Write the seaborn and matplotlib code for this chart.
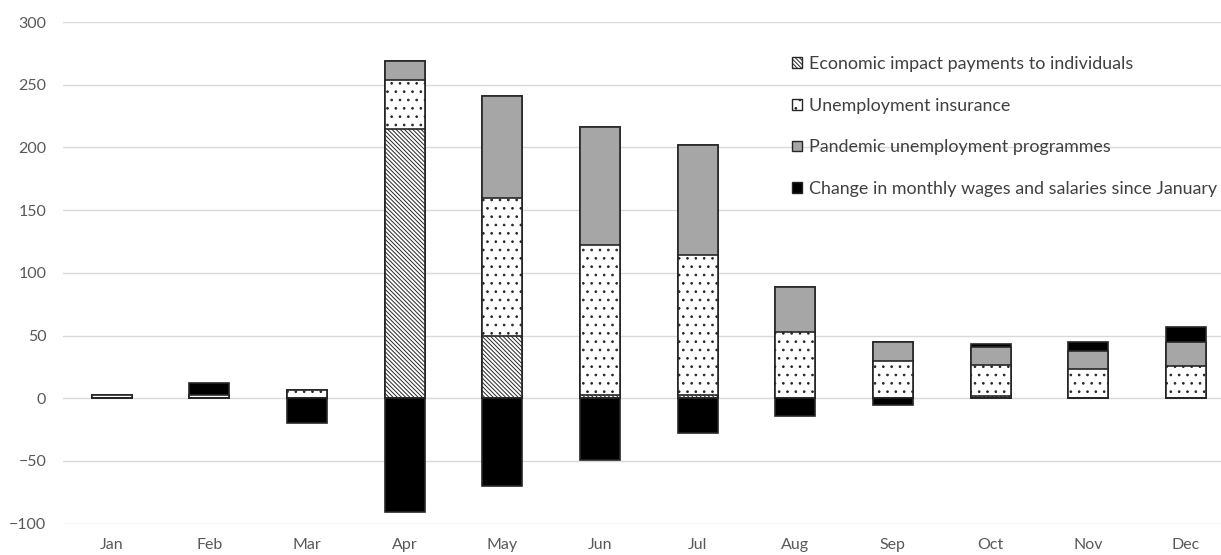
import seaborn as sns
import matplotlib.pyplot as plt
from matplotlib.patches import Patch
import numpy as np
import pandas as pd

months = ['Jan', 'Feb', 'Mar', 'Apr', 'May', 'Jun', 'Jul', 'Aug', 'Sep', 'Oct', 'Nov', 'Dec']

# values
eip = [0, 0, 0, 215, 50, 3, 2.5, 0, 0, 1.5, 0, 0]
ui = [2.5, 2.5, 6.5, 39, 109.5, 119, 111.5, 53, 30, 25, 23, 26]
pandemic = [0, 0, 0, 15, 81.5, 94, 88, 35.5, 14.5, 14.3, 15, 18.5]
wages = [0, 10, -19.5, -91, -70, -49.5, -27.5, -14.5, -5.5, 2.7, 7, 12]

labels = ['Economic impact payments to individuals',
          'Unemployment insurance',
          'Pandemic unemployment programmes',
          'Change in monthly wages and salaries since January']

df = pd.DataFrame({'month': months, 'eip': eip, 'ui': ui,
                   'pandemic': pandemic, 'wages': wages})
df['wages_pos'] = df['wages'].clip(lower=0)
df['wages_neg'] = df['wages'].clip(upper=0)

# cumulative heights for stacking (draw tallest first)
df['c1'] = df['eip']
df['c2'] = df['c1'] + df['ui']
df['c3'] = df['c2'] + df['pandemic']
df['c4'] = df['c3'] + df['wages_pos']

sns.set_style('white')
plt.rcParams['font.family'] = ['Lato', 'DejaVu Sans']
plt.rcParams['hatch.linewidth'] = 0.7

fig = plt.figure(figsize=(12.21, 5.55), dpi=100)
ax = fig.add_axes([63 / 1221, 1 - 523.7 / 555, (1221 - 63) / 1221, (523.7 - 22) / 555])

edge = '#262626'
bw = 0.41
hatch_eip = '\\' * 8
hatch_ui = '..'
layers = [
    ('c4', '#000000', None),
    ('c3', '#a6a6a6', None),
    ('c2', '#ffffff', hatch_ui),
    ('c1', '#ffffff', hatch_eip),
]
for col, fc, hatch in layers:
    sns.barplot(data=df, x='month', y=col, order=months, color=fc, width=bw,
                saturation=1, edgecolor=edge, linewidth=1.2, hatch=hatch,
                errorbar=None, ax=ax, zorder=3)

sns.barplot(data=df, x='month', y='wages_neg', order=months, color='#000000',
            width=bw, saturation=1, edgecolor=edge, linewidth=1.2,
            errorbar=None, ax=ax, zorder=3)

ax.set_ylim(-100, 300)
ax.set_xlim(-0.5, 11.36)
ax.set_yticks(np.arange(-100, 301, 50))
ax.grid(axis='y', color='#d9d9d9', linewidth=1.0, zorder=0)
ax.set_axisbelow(True)
sns.despine(ax=ax, left=True, bottom=True)
ax.set_xlabel('')
ax.set_ylabel('')
ax.tick_params(axis='both', length=0, labelsize=11.5, colors='#595959')
ax.tick_params(axis='y', pad=12)
ax.tick_params(axis='x', pad=10)

handles = [
    Patch(facecolor='white', edgecolor=edge, hatch=hatch_eip),
    Patch(facecolor='white', edgecolor=edge, hatch=hatch_ui),
    Patch(facecolor='#a6a6a6', edgecolor=edge),
    Patch(facecolor='#000000', edgecolor=edge),
]
fig.legend(handles, labels, loc='upper left', bbox_to_anchor=(792 / 1221, 1 - 56 / 555),
           frameon=False, fontsize=12.9, handlelength=0.55, handleheight=0.55,
           handletextpad=0.4, labelspacing=1.43, borderpad=0, borderaxespad=0,
           labelcolor='#404040')

fig.savefig('out.png', dpi=100)
